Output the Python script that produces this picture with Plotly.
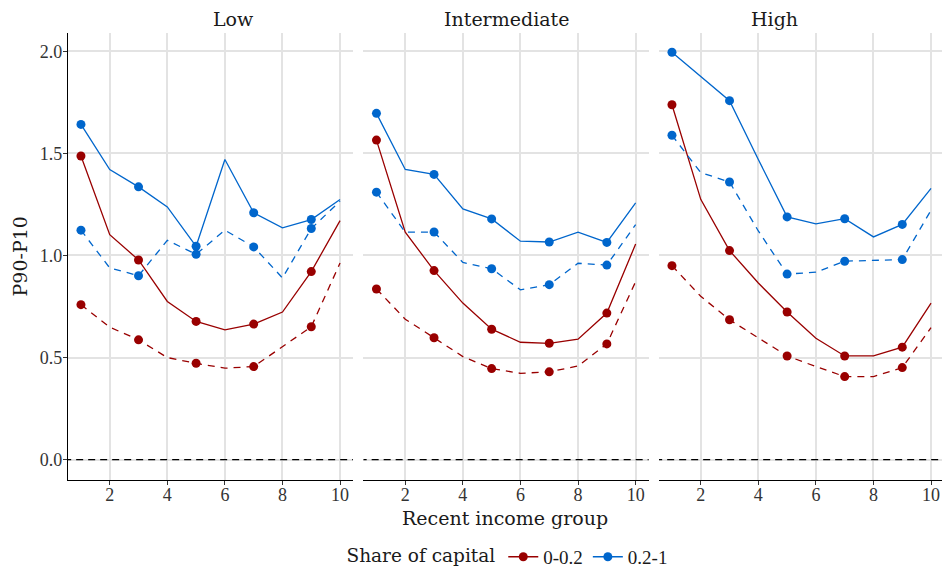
import plotly.graph_objects as go

groups = ["Low", "Intermediate", "High"]
x_vals = [1, 2, 3, 4, 5, 6, 7, 8, 9, 10]
legend_labels = ["0-0.2", "0.2-1"]

# Low
low_red_solid = [1.487, 1.102, 0.978, 0.775, 0.677, 0.636, 0.664, 0.723, 0.921, 1.171]
low_red_dash = [0.759, 0.649, 0.587, 0.500, 0.472, 0.448, 0.456, 0.554, 0.651, 0.963]
low_blue_solid = [1.642, 1.421, 1.336, 1.238, 1.045, 1.470, 1.209, 1.135, 1.176, 1.274]
low_blue_dash = [1.124, 0.939, 0.901, 1.074, 1.006, 1.124, 1.042, 0.890, 1.132, 1.266]
# Intermediate
mid_red_solid = [1.565, 1.114, 0.926, 0.767, 0.639, 0.575, 0.570, 0.590, 0.718, 1.056]
mid_red_dash = [0.836, 0.688, 0.597, 0.505, 0.446, 0.423, 0.430, 0.459, 0.567, 0.872]
mid_blue_solid = [1.696, 1.421, 1.397, 1.228, 1.179, 1.070, 1.066, 1.114, 1.064, 1.258]
mid_blue_dash = [1.310, 1.114, 1.115, 0.966, 0.935, 0.832, 0.857, 0.962, 0.953, 1.151]
# High
high_red_solid = [1.738, 1.275, 1.024, 0.865, 0.723, 0.595, 0.508, 0.508, 0.551, 0.767]
high_red_dash = [0.950, 0.800, 0.685, 0.595, 0.508, 0.456, 0.407, 0.407, 0.451, 0.647]
high_blue_solid = [1.995, 1.875, 1.758, 1.470, 1.189, 1.155, 1.180, 1.091, 1.152, 1.329]
high_blue_dash = [1.589, 1.406, 1.360, 1.120, 0.909, 0.918, 0.972, 0.977, 0.980, 1.222]

y_ticks = [0.0, 0.5, 1.0, 1.5, 2.0]
y_tick_labels = ["0.0", "0.5", "1.0", "1.5", "2.0"]
x_ticks = [2, 4, 6, 8, 10]

RED = "#990000"
BLUE = "#0066CC"
TITLE_FONT = "DejaVu Serif"
TICK_FONT = "Liberation Serif"

panels = [
    (low_red_solid, low_red_dash, low_blue_solid, low_blue_dash),
    (mid_red_solid, mid_red_dash, mid_blue_solid, mid_blue_dash),
    (high_red_solid, high_red_dash, high_blue_solid, high_blue_dash),
]
domains = [[0.0, 0.3261], [0.3381, 0.6643], [0.6762, 1.0]]
x_ranges = [[0.55, 10.45], [0.55, 10.45], [0.55, 10.38]]

fig = go.Figure()
for i, (rs, rd, bs, bd) in enumerate(panels):
    xa = "x" if i == 0 else f"x{i+1}"
    ya = "y" if i == 0 else f"y{i+1}"
    for series, color, dash in [
        (rs, RED, "solid"),
        (rd, RED, "7px,6px"),
        (bs, BLUE, "solid"),
        (bd, BLUE, "7px,6px"),
    ]:
        fig.add_trace(go.Scatter(
            x=x_vals, y=series, mode="lines", xaxis=xa, yaxis=ya,
            line=dict(color=color, width=1.3, dash=dash),
            showlegend=False, hoverinfo="skip"))
        odd_x = [x for x in x_vals if x % 2 == 1]
        odd_y = [v for x, v in zip(x_vals, series) if x % 2 == 1]
        fig.add_trace(go.Scatter(
            x=odd_x, y=odd_y, mode="markers", xaxis=xa, yaxis=ya,
            marker=dict(color=color, size=9), showlegend=False))
    fig.add_trace(go.Scatter(
        x=[0.0, 11.0], y=[0, 0], mode="lines", xaxis=xa, yaxis=ya,
        line=dict(color="black", width=1.2, dash="7px,5px"),
        showlegend=False, hoverinfo="skip"))

# legend entries
for name, color in zip(legend_labels, [RED, BLUE]):
    fig.add_trace(go.Scatter(
        x=[None], y=[None], mode="lines+markers", name=name,
        line=dict(color=color, width=1.3), marker=dict(color=color, size=9)))

axis_common = dict(showgrid=True, gridcolor="#e3e3e3", gridwidth=1.5, zeroline=False,
                   automargin=False)
layout = dict(
    width=942, height=574,
    margin=dict(l=68, r=0, t=33, b=94, autoexpand=False),
    plot_bgcolor="white", paper_bgcolor="white",
    font=dict(family=TITLE_FONT, color="#1a1a1a", size=17),
    showlegend=True,
    legend=dict(orientation="h", x=0.504, xanchor="center", y=-0.172, yanchor="middle",
                title=dict(text="Share of capital", side="left",
                           font=dict(size=18.5, family=TITLE_FONT)),
                font=dict(size=19, family=TICK_FONT), itemwidth=30),
)
for i in range(3):
    xk = "xaxis" if i == 0 else f"xaxis{i+1}"
    yk = "yaxis" if i == 0 else f"yaxis{i+1}"
    layout[xk] = dict(domain=domains[i], range=x_ranges[i], tickvals=x_ticks,
                      ticks="outside", ticklen=4, tickcolor="#333", showline=True,
                      linecolor="black", linewidth=1.2, anchor="y" if i == 0 else f"y{i+1}",
                      ticklabelstandoff=-6, ticklabeloverflow="allow",
                      tickfont=dict(size=18, color="#333", family=TICK_FONT), **axis_common)
    ydict = dict(range=[-0.0995, 2.0895], tickvals=y_ticks, domain=[0, 1],
                 anchor="x" if i == 0 else f"x{i+1}", **axis_common)
    if i == 0:
        ydict.update(ticktext=y_tick_labels, ticks="outside", ticklen=4, tickcolor="#333",
                     showline=True, linecolor="black", linewidth=1.2,
                     ticklabelstandoff=-3,
                     tickfont=dict(size=18, color="#333", family=TICK_FONT))
    else:
        ydict.update(showticklabels=False, ticks="", showline=False, matches="y")
    layout[yk] = ydict
fig.update_layout(**layout)

for i, g in enumerate(groups):
    fig.add_annotation(text=g, x=sum(domains[i]) / 2, y=1.0, xref="paper", yref="paper",
                       yanchor="bottom", yshift=1, showarrow=False, font=dict(size=19))
fig.add_annotation(text="Recent income group", x=0.5, y=-0.085, xref="paper", yref="paper",
                   yanchor="middle", showarrow=False, font=dict(size=19))
fig.add_annotation(text="P90-P10", x=-0.055, y=0.5, xref="paper", yref="paper",
                   xanchor="center", yanchor="middle", textangle=-90,
                   showarrow=False, font=dict(size=19))

fig.write_html(
    "out.html",
    config={"displayModeBar": False},
    post_script="document.body.style.margin='0';document.body.style.overflow='hidden';",
)
